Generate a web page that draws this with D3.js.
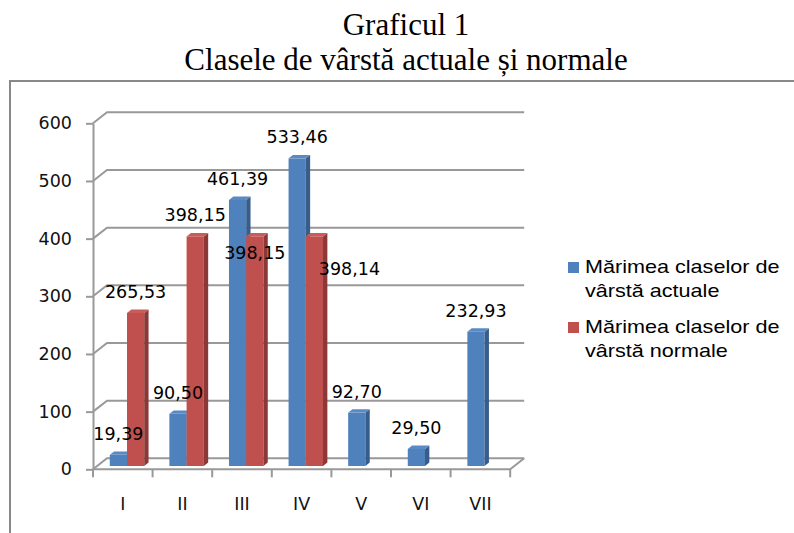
<!DOCTYPE html>
<html>
<head>
<meta charset="utf-8">
<script src="https://cdn.jsdelivr.net/npm/d3@7"></script>
<style>
  body { margin: 0; background: #fff; }
  svg { display: block; }
</style>
</head>
<body>
<div id="chart"></div>
<script>
const categories = ["I", "II", "III", "IV", "V", "VI", "VII"]
const seriesNames = ["Mărimea claselor de vârstă actuale", "Mărimea claselor de vârstă normale"]
const actuale = [19.39, 90.50, 461.39, 533.46, 92.70, 29.50, 232.93]
const normale = [265.53, 398.15, 398.15, 398.14, null, null, null]
const yTicks = [0, 100, 200, 300, 400, 500, 600]
const legendLines = [["Mărimea claselor de", "vârstă actuale"], ["Mărimea claselor de", "vârstă normale"]]

const colors = [
  {front: "#4F81BD", side: "#385D8A", top: "#5A8AC4"},
  {front: "#C0504D", side: "#8C3836", top: "#C95B58"}
]

// excel moved a couple of labels off the bar tops
const labelNudge = {"1-III": [0, 38], "1-IV": [35, 54]}

const W = 794, H = 533
const DX = 14, DY = -11       // full depth of the 3d box
const z0 = 0.3, z1 = 0.61     // bar depth inside the box

const svg = d3.select("#chart").append("svg")
    .attr("width", W).attr("height", H)

// frame
svg.append("rect")
    .attr("x", 10).attr("y", 81)
    .attr("width", 820).attr("height", 500)
    .attr("fill", "none").attr("stroke", "#888").attr("stroke-width", 2)

// title
const title = svg.append("text")
    .attr("text-anchor", "middle")
    .attr("font-family", "'Liberation Serif', 'Times New Roman', serif")
    .attr("font-size", 31).attr("fill", "#000")
title.append("tspan").attr("x", 406).attr("y", 35).text("Graficul 1")
title.append("tspan").attr("x", 406).attr("y", 70).text("Clasele de vârstă actuale și normale")

const x = d3.scaleBand().domain(categories).range([93, 510.2])
const y = d3.scaleLinear().domain([0, 600]).range([469.3, 123.3])
const xs = d3.scaleBand().domain([0, 1]).range([0, x.bandwidth()]).paddingOuter(0.73)

const grid = svg.append("g")
    .attr("fill", "none").attr("stroke", "#999").attr("stroke-width", 2)

// back wall gridlines with the little diagonal from the front axis
grid.selectAll("path.gl")
  .data(yTicks)
  .join("path")
    .attr("class", "gl")
    .attr("d", d => {
      const p = d3.path()
      p.moveTo(93, y(d))
      p.lineTo(93 + DX, y(d) + DY)
      p.lineTo(x.range()[1] + DX, y(d) + DY)
      return p.toString()
    })

// floor front edge and right edge
grid.append("path")
    .attr("d", () => {
      const p = d3.path()
      p.moveTo(93, y(0))
      p.lineTo(x.range()[1], y(0))
      p.lineTo(x.range()[1] + DX, y(0) + DY)
      return p.toString()
    })

// category boundary ticks
const bounds = categories.map(c => x(c)).concat(x.range()[1])
grid.selectAll("line.ct")
  .data(bounds)
  .join("line")
    .attr("class", "ct")
    .attr("x1", d => d).attr("x2", d => d)
    .attr("y1", y(0)).attr("y2", y(0) + 8)

// y axis
const yAxis = svg.append("g")
    .attr("transform", "translate(93,0)")
    .call(d3.axisLeft(y).tickValues(yTicks).tickSize(7).tickSizeOuter(0).tickPadding(14))
yAxis.select(".domain").attr("stroke", "#999").attr("stroke-width", 2)
yAxis.selectAll(".tick line").attr("stroke", "#999").attr("stroke-width", 2)
yAxis.selectAll(".tick text")
    .attr("font-family", "'DejaVu Sans', Verdana, sans-serif")
    .attr("font-size", 17.5).attr("fill", "#111")

// x axis labels
const xAxis = svg.append("g")
    .attr("transform", `translate(0,${y(0)})`)
    .call(d3.axisBottom(x).tickSize(0))
xAxis.select(".domain").remove()
xAxis.selectAll(".tick text")
    .attr("y", 41).attr("dy", null)
    .attr("font-family", "'DejaVu Sans', Verdana, sans-serif")
    .attr("font-size", 17.5).attr("fill", "#111")

// bars
const bars = []
categories.forEach((c, i) => {
  [actuale[i], normale[i]].forEach((v, s) => {
    if (v == null) return
    bars.push({cat: c, s, v})
  })
})

const dz = z1 - z0
const base = y(0) + z0 * DY
const yTop = v => y(v) + z0 * DY
const xL = d => x(d.cat) + xs(d.s) + z0 * DX
const xR = d => xL(d) + xs.bandwidth()

const line = d3.line()
const gBars = svg.append("g")

const bar = gBars.selectAll("g")
  .data(bars)
  .join("g")

bar.append("rect")
    .attr("x", d => xL(d)).attr("y", d => yTop(d.v))
    .attr("width", xs.bandwidth())
    .attr("height", d => base - yTop(d.v))
    .attr("fill", d => colors[d.s].front)

bar.append("path")
    .attr("fill", d => colors[d.s].side)
    .attr("d", d => line([
      [xR(d), yTop(d.v)],
      [xR(d) + dz * DX, yTop(d.v) + dz * DY],
      [xR(d) + dz * DX, base + dz * DY],
      [xR(d), base]
    ]) + "Z")

bar.append("path")
    .attr("fill", d => colors[d.s].top)
    .attr("d", d => line([
      [xL(d), yTop(d.v)],
      [xR(d), yTop(d.v)],
      [xR(d) + dz * DX, yTop(d.v) + dz * DY],
      [xL(d) + dz * DX, yTop(d.v) + dz * DY]
    ]) + "Z")

// data labels
const fmt = v => d3.format(".2f")(v).replace(".", ",")
svg.append("g")
    .attr("font-family", "'DejaVu Sans', Verdana, sans-serif")
    .attr("font-size", 17.5).attr("fill", "#000")
    .attr("text-anchor", "middle")
  .selectAll("text")
  .data(bars)
  .join("text")
    .attr("x", d => (xL(d) + xR(d)) / 2 + (labelNudge[d.s + "-" + d.cat] || [0, 0])[0])
    .attr("y", d => yTop(d.v) - 15 + (labelNudge[d.s + "-" + d.cat] || [0, 0])[1])
    .text(d => fmt(d.v))

// legend
const legend = svg.append("g")
    .attr("font-family", "'Liberation Sans', Arial, sans-serif")
    .attr("font-size", 18).attr("fill", "#000")

const item = legend.selectAll("g")
  .data(seriesNames)
  .join("g")
    .attr("transform", (d, i) => `translate(568,${262 + i * 60})`)

item.append("rect")
    .attr("width", 11).attr("height", 11)
    .attr("fill", (d, i) => colors[i].front)

item.append("text")
    .attr("transform", "translate(17,0) scale(1.2,1)")
    .selectAll("tspan")
    .data((d, i) => legendLines[i])
    .join("tspan")
      .attr("x", 0)
      .attr("y", (d, j) => 11 + j * 24)
      .text(d => d)
</script>
</body>
</html>
